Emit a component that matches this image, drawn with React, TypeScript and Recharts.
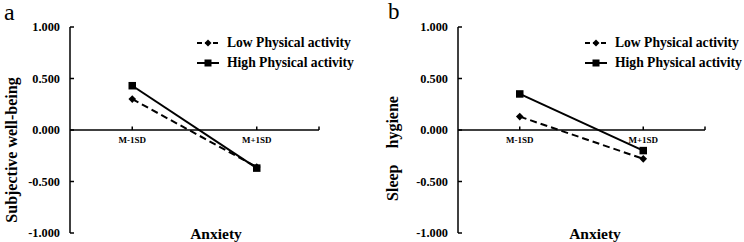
import React from 'react';
import { LineChart, Line, XAxis, YAxis, ReferenceLine, ReferenceDot, Legend, Label } from 'recharts';

const categories = ['M-1SD', 'M+1SD'];
const lowA = [0.3, -0.36];
const highA = [0.43, -0.37];
const lowB = [0.13, -0.28];
const highB = [0.35, -0.2];
const yTicks = [-1, -0.5, 0, 0.5, 1];
const seriesNames = ['Low Physical activity', 'High Physical activity'];

const FONT = '"Liberation Serif", "Times New Roman", serif';

const buildData = (low: number[], high: number[]) =>
  categories.map((c, i) => ({ name: c, low: low[i], high: high[i] }));

const Diamond = (props: any) => {
  const { cx, cy, index } = props;
  if (cx == null || cy == null) return <g key={`d${index}`} />;
  const r = 3.8;
  return (
    <path
      key={`d${index}`}
      d={`M${cx},${cy - r} L${cx + r},${cy} L${cx},${cy + r} L${cx - r},${cy} Z`}
      fill="#000"
    />
  );
};

const Square = (props: any) => {
  const { cx, cy, index } = props;
  if (cx == null || cy == null) return <g key={`s${index}`} />;
  const s = 7.5;
  return <rect key={`s${index}`} x={cx - s / 2} y={cy - s / 2} width={s} height={s} fill="#000" />;
};

const LegendContent = () => (
  <div style={{ fontFamily: FONT, fontWeight: 'bold', fontSize: 13.6, color: '#000' }}>
    {seriesNames.map((n, i) => (
      <div key={n} style={{ display: 'flex', alignItems: 'center', height: 20.6, whiteSpace: 'nowrap' }}>
        <svg width={22} height={12} style={{ marginRight: 8 }}>
          <line
            x1={0}
            y1={6}
            x2={22}
            y2={6}
            stroke="#000"
            strokeWidth={2}
            strokeDasharray={i === 0 ? '5 3' : undefined}
          />
          {i === 0 ? (
            <path d="M11,2.5 L14.5,6 L11,9.5 L7.5,6 Z" fill="#000" />
          ) : (
            <rect x={7.5} y={2.5} width={7} height={7} fill="#000" />
          )}
        </svg>
        <span>{n}</span>
      </div>
    ))}
  </div>
);

type PanelProps = {
  low: number[];
  high: number[];
  yLabel: string;
  axisX: number;
  rightMargin: number;
  labelX: number;
  labelDy: number;
  legendLeft: number;
};

const Panel = ({ low, high, yLabel, axisX, rightMargin, labelX, labelDy, legendLeft }: PanelProps) => {
  const data = buildData(low, high);
  return (
    <LineChart
      width={372}
      height={242}
      data={data}
      margin={{ top: 27, right: rightMargin, bottom: 9, left: 0 }}
    >
      <XAxis dataKey="name" type="category" scale="band" hide />
      <YAxis
        width={axisX}
        domain={[-1, 1]}
        ticks={yTicks}
        interval={0}
        tickFormatter={(v: number) => v.toFixed(3)}
        axisLine={{ stroke: '#000', strokeWidth: 1.5 }}
        tickLine={{ stroke: '#000', strokeWidth: 1.5 }}
        tickSize={-4}
        tickMargin={14}
        tick={{ fill: '#000', fontFamily: FONT, fontWeight: 'bold', fontSize: 12.3 }}
      >
        <Label
          content={(p: any) => {
            const vb = p.viewBox || {};
            const cy = (vb.y ?? 27) + (vb.height ?? 206) / 2 + labelDy;
            return (
              <text
                x={labelX}
                y={cy}
                transform={`rotate(-90, ${labelX}, ${cy})`}
                textAnchor="middle"
                dominantBaseline="central"
                fill="#000"
                style={{ fontFamily: FONT, fontWeight: 'bold', fontSize: 16, whiteSpace: 'pre' }}
              >
                {yLabel}
              </text>
            );
          }}
        />
      </YAxis>
      <ReferenceLine
        y={0}
        stroke="#000"
        strokeWidth={1.5}
        shape={(p: any) => (
          <g>
            <line x1={p.x1} y1={p.y1} x2={p.x2} y2={p.y2} stroke="#000" strokeWidth={1.5} />
            <line x1={p.x2} y1={p.y2} x2={p.x2} y2={p.y2 - 3.5} stroke="#000" strokeWidth={1.5} />
          </g>
        )}
      />
      {categories.map((c) => (
        <ReferenceDot
          key={c}
          x={c}
          y={0}
          r={0}
          shape={(p: any) => (
            <g>
              <line x1={p.cx} y1={p.cy} x2={p.cx} y2={p.cy - 3.5} stroke="#000" strokeWidth={1.5} />
              <text
                x={p.cx}
                y={p.cy + 10}
                textAnchor="middle"
                dominantBaseline="central"
                fill="#000"
                style={{ fontFamily: FONT, fontWeight: 'bold', fontSize: 9 }}
              >
                {c}
              </text>
            </g>
          )}
        />
      ))}
      <Line
        dataKey="low"
        name={seriesNames[0]}
        stroke="#000"
        strokeWidth={2}
        strokeDasharray="7 4"
        dot={Diamond}
        activeDot={false}
        isAnimationActive={false}
      />
      <Line
        dataKey="high"
        name={seriesNames[1]}
        stroke="#000"
        strokeWidth={2}
        dot={Square}
        activeDot={false}
        isAnimationActive={false}
      />
      <Legend
        layout="vertical"
        align="center"
        verticalAlign="middle"
        content={LegendContent}
        wrapperStyle={{ left: legendLeft, top: 32.4, width: 'auto', height: 'auto' }}
      />
    </LineChart>
  );
};

export default function App() {
  return (
    <div style={{ position: 'absolute', left: 0, top: 0, width: 744, height: 242, background: '#fff', overflow: 'hidden' }}>
      <div style={{ position: 'absolute', left: 0, top: 0 }}>
        <Panel
          low={lowA}
          high={highA}
          yLabel="Subjective well-being"
          axisX={70}
          rightMargin={53}
          labelX={11.5}
          labelDy={20}
          legendLeft={197}
        />
      </div>
      <div style={{ position: 'absolute', left: 372, top: 0 }}>
        <Panel
          low={lowB}
          high={highB}
          yLabel={'Sleep    hygiene'}
          axisX={86}
          rightMargin={39}
          labelX={20.7}
          labelDy={18.5}
          legendLeft={213}
        />
      </div>
      <svg width={744} height={242} style={{ position: 'absolute', left: 0, top: 0, pointerEvents: 'none' }}>
        <text x={4} y={20} fill="#000" style={{ fontFamily: FONT, fontSize: 24 }}>a</text>
        <text x={388} y={18.5} fill="#000" style={{ fontFamily: FONT, fontSize: 23 }}>b</text>
        <text x={216} y={233} textAnchor="middle" dominantBaseline="central" fill="#000" style={{ fontFamily: FONT, fontWeight: 'bold', fontSize: 15.5 }}>Anxiety</text>
        <text x={595} y={233} textAnchor="middle" dominantBaseline="central" fill="#000" style={{ fontFamily: FONT, fontWeight: 'bold', fontSize: 15.5 }}>Anxiety</text>
      </svg>
    </div>
  );
}
